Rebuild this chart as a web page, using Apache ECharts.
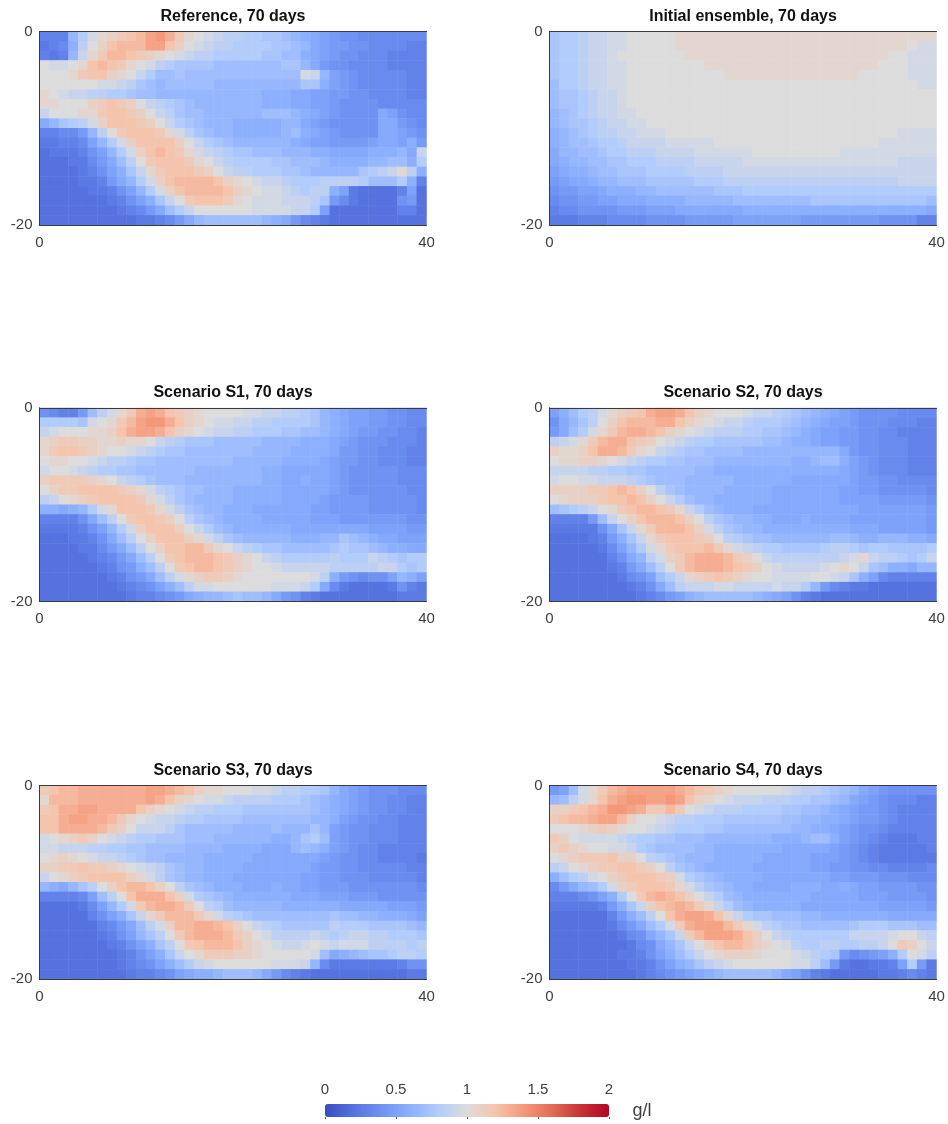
<!DOCTYPE html>
<html><head><meta charset="utf-8">
<style>html,body{margin:0;padding:0;background:#fff}#c{width:948px;height:1124px}</style>
<script src="https://cdn.jsdelivr.net/npm/echarts@6/dist/echarts.min.js"></script>
</head><body><div id="c"></div>
<script>
// One letter per cell, top row first: a = 0.20 g/l, each next letter adds 0.05 g/l.
const panelTitles = ["Reference, 70 days","Initial ensemble, 70 days","Scenario S1, 70 days","Scenario S2, 70 days","Scenario S3, 70 days","Scenario S4, 70 days"];
const xCells = Array.from({length:40},(_,i)=>i);
const yCells = Array.from({length:20},(_,i)=>i);
const colorbarTicks = [0,0.5,1,1.5,2];
const coolwarm = ["#3b4cc0","#5572df","#6f92f3","#8db0fe","#b2ccfb","#dddcdc","#f5c4ac","#f4987a","#e36c55","#c53334","#b40426"];

const reference = [
"cccjmprstuvxywtrqponnmmllkjihgfeeddddddd",
"bcdinqsuvvvxxusqponnmmmmllkjhgffeeddddcc",
"cbcjortvvutsrqponnmmmmmllkkihgfeedddcccc",
"qppqruvutrqpnmllllkkkkkkklljhfeeddddcccc",
"qqqrtuusrqomkklkkkkkkkkkkkkpojgfedddddcc",
"qqqqqqpponlkjkkkkkjjjjjjjjjlligfedddddcc",
"rqpoonnmmlkkjjjjjjjjjjjiiihhggffeeddddcc",
"rrqqqstutsqonmlkjjjjjjjiiihhggfeeeeddddd",
"oqqqrrtuutsqonlkkjjjjjjkkkjihgfeeeehgedd",
"hjlmnpsuuutsqomlkjjjiiiiijjhgfeeeeehhfed",
"ccddfjnqtuuutrpnlkjjiiiiijkihgfeeeehhgfe",
"bbccdgjmpsuuuusqomlkjjjjjjihggffffghhgif",
"abbbcegjmpsuvutrponmllkkkjjjiihhhhiiijho",
"aaabbdfhknqtuuutrqonmmmmllkkkjiiiijjkkim",
"aaaabcegilortuuutsqonnmmmllkjjjjjlmnorni",
"aaaabbcfhjmpsuvvvvusrqpoonmmmnnnnmkkkmic",
"aaaaabbcegjmpsuvvvvusrqpponmnnigbaaaacga",
"aaaaaaabcegiloqtuuutrqpppooonlfdbaaaaefa",
"aaaaaaaabcdfhkmoqqqqqqppppoomgaaaaaaacca",
"aaaaaaaaaabbcdfhjkkkkkkjihfdcbaaaaaaaaaa"];

const initialEnsemble = [
"lmmnooppqqqqqrrrrrrrrrrrrrrrrrrrrrrrrrrr",
"lmmnooppqqqqqrrrrrrrrrrrrrrrrrrrrrrrrqpp",
"lmmnoopqqqqqqqrrrrrrrrrrrrrrrrrrrrrqqppp",
"lmmnooppqqqqqqqqrrrrrrrrrrrrrrrrrrqqqppp",
"lmmnooppqqqqqqqqqqrrrrrrrrrrrrrrqqqqqppp",
"kmmnooppqqqqqqqqqqqqqqqqqqqqqqqqqqqqqqpp",
"kllmnoopqqqqqqqqqqqqqqqqqqqqqqqqqqqqqqqq",
"kllmnoopqqqqqqqqqqqqqqqqqqqqqqqqqqqqqqqq",
"jklmnooppqqqqqqqqqqqqqqqqqqqqqqqqqqqqqqq",
"jkllmnooppqqqqqqqqqqqqqqqqqqqqqqqqqqqqqq",
"ijklmnnoopppqqqqqqqqqqqqqqqqqqqqqqqqpppp",
"ijkklmmnoooopppppqqqqqqqqqqqqqqqqqpppppp",
"hjjkklmmnnnooooppppppqqqqqqqqqpppppppppp",
"hijjkkllmmmnnnnoooooppppppppppppppppoooo",
"ghiijkklllmmmmnnnnoooooooooooooooooooooo",
"fghhijjkkklllllmmmnnnnnnnnnnnnnnnnnnoooo",
"effgghiiijjkkkkkklllmmmmmmmmmmmmmmmmmmmm",
"deeffgghhhiiiijjjjjkkkkkkkkllllllllllllkk".slice(0,40),
"cddeeeefffggghhhhhhhiiiiiiiiiiiiiiiiiiih",
"bbbcccddddeeeefffffgggggggffffffffeeeec".padEnd(40,"c")];

const scenarioS1 = [
"edccfknprtwxwutsrqqqqppoonnmljihggffeedd",
"mmmmlpqrtvxyywusrqppoonnmmmmljihggffeedd",
"opqqqrrsuwxxwusrqpoonnmmmllkkjihgffeeddc",
"rsttssrrsrrqonmlllkkkkkjjjjiiihgfeeedddc",
"rtuutsrqqponmllkkkkkkkjjjjiiiihffeedddcc",
"qrrqqponnmllkkkkkkkkjjjjjiiiihgffeedddcc",
"pqqponmmllkkkkkkjjjjjjjiihhhhhgfeeeeeddd",
"sttttsrqonmlkkkjjjjjjjjiihhihhgfeeeeeddd",
"qsttuuuutsrpnmlkkjjjiiiiihhhhhgfeeeeeedd",
"noqrstuuuutrpnlkjjjjiiiiihhhhgffffeeeeed",
"iihijmpruuutrpnlkjjiiihhhhhhggffffeeeeed",
"ccccehknqtuutsqnlkjiiiihhhhhgggfffffffee",
"bbbbcegjmpsuuusqomkjiiiiiihhhhhhhhggggff",
"aaabbcehknqsuuusrpnlkjjjjjiiijjlkjihhggg",
"aaaabbdfhknqsuuvvtrqonmllkkkkklmllkjiihh",
"aaaaabcdfhknqtuvvvutsrqonmmmmmnmmmonmlmm",
"aaaaaabcefiknqtuvvutsrqqpooooonnnnnoomlm",
"aaaaaaabcefhknprsttsrqqqqqqqpnifedeegjig",
"aaaaaaaabcdegiknppqqqqqqpppomhdbaaaabecb",
"aaaaaaaaabccdefhijjklkkjhfecbaaaaaaaabbb"];

const scenarioS2 = [
"gikmnprstuwxxwusrqqqpoonmlkjihgfeeeedddd",
"ehjlnqsuvvvwwusrqpoonmmmlkjihggfeeedddcc",
"fhkmprtvwwvusrqponnnmmllkjihggffeeddcccc",
"noprtvwwutsqponmmlllllkkjiihggffeedddccc",
"srrsuwwvtrqonmllkkkkjjjjjjjjjjhfeedddccc",
"qrrssrqponmmllkkkjjjjjjjjiijkkigfedddccc",
"oooonnmmllkkkkkjjiiiiiiiiiiiiihgfedddccc",
"pqqppooonmlkkkjjjjjiiiiiihhhhhhgffeedddd",
"ssssttuvusqnlkjjjjiiiiihhhhhhhggffeeeeed",
"qrssstuuvusqomkjjiiiiiihhhhhhhggggfffffe",
"klmnoqrtuvvutromkjiiihhhhhhhhhhhgggggggf",
"ccccfkoqsuvvvusqnlkjjiihhhihhhhggggggggf",
"bbbbbehlortvvvuspnlkjjiiiiiiiiihhhgggggf",
"aaaabcfilortuuutsqnmlkkjjjjjjkkjiijjjiih",
"aaaaabdgjmprtuuuvtrponmmllllmnnmlmmllllm",
"aaaaaacehjnpstvwwwvtsqonnnnnnnopronnmlmo",
"aaaaaabcfhknqtvwwwvutsqpoooopqrqolkiihj".padEnd(40,"j"),
"aaaaaaabdegkmorstutsrqqppppqqpoligdccccc",
"aaaaaaaabcehknoooppoooopoomjfdcbbaaaaaaa",
"aaaaaaaaabcdfgijkkkkkjihgecbaaaaaaaaaaaa"];

const scenarioS3 = [
"tuvvwwwwwwwxxwvusrrqqqpponnmmljhgfeeeddd",
"rvvvwwwwwwwxwusrqppOnnnnmmmlkjihgfeeddcc".toLowerCase(),
"tuwwxxwwwwusrqponnmmmlllllllkjihgfeeddcc",
"uuwxxwwvtrqpoonmmllllkkkkkkkjjigfeeddccc",
"uuwwwwvtsqooonlkkkkkjjjjkjjjljgfeedddccc",
"pqrstsqponmmlllkkkjjjjjjiijlmkgfeedddccc",
"ppooonnmmllkkkkjjjjiiiihhhjkjigfeddccccc",
"qrsrqpoonmlkkjjjjiiiiihhhhhhhgfeeddccccb",
"ssttuttsrqponlkjjiiiihhhhhhhgffeedddddcc",
"oqrstuuuusrpnlkjjiiihhhhhhhggffeeedddddc",
"jihjlnqsuvvusqnlkjiiihhhihhggfffeeeeeeed",
"ccccdgknquwwwuspmlkjiiiiiihhhgggfffeeeee",
"aaaabdgjmptvwwvtqnmkjjjjjiiiiiihhhhhgggf",
"aaaaacegilortvvvtrpnmlkkkkkkkklkkjjiiihg",
"aaaaaacdfhknpsvvwwvusqonmlllllnmmmllllkj",
"aaaaaabcegjlnqtvwwwvtsqpnnnnonmnoonnmmml",
"aaaaaaabcegilnqtuvvvusrqpoopqpopppnnnnmn",
"aaaaaaaabcegiloqrtttssrqqqqqpkhijkllmnnm",
"aaaaaaaabcdegikmopqqqqqqpppojdbbbbbbbcee",
"aaaaaaaaabccdeghiijkkkjhfdcbaaaaaaaaaabb"];

const scenarioS4 = [
"fgkprtvwxxxxxwvutsrqqqqqponnmlkjhgfeeeee",
"jknpruwxyyxxyxusrqpooonnnmmllkjhgfedddcc",
"sstuvwyyxwttvtqponnnmmmmllkkjihgffedcccc",
"tuvvwxxvsqqponnmmmllllllkkjjiihgffedcccc",
"qqqrstsrqqponmmmllkkkkkkkjjiihgfeedccccc",
"tsqpppponmmllkkkjjjjjjjiiijkkigfedcbbbcc",
"stsrqqppomlkkkkjjiiiiiiihhhhhgfedcbbbbbc",
"qrstttussqnmlkjjjiiiiihhhhhgggfedcbbbbbb",
"noqrsttuutsqnlkjiiiiihhhhhhggffeeddccccd",
"ikmnpqstuuutspmlkjiiiihhhhhhhggfffeeeddd",
"dfhjkmpstuuutrpnlkjiihhhhiiihhihggffffee",
"cccdegimqtvwvusqomkjiiiiiiihhhhhgggffffe",
"bbbbbcfilosuvwvtromkjiiiiihhhhhhhhgggggf",
"aaaaaacfiknquwxxwuromllkkkjjiiiiiiihhhhh",
"aaaaaabdfhkmptwxxxvtrpnmllkkkkklmmmlllkk",
"aaaaaaabdehjlotvxxxwusqonmmmmmmoooopqqon",
"aaaaaaaabdehjloqsuvvusrqpnmmnnmmnnoqtsqo",
"aaaaaaabbcegikmoqrsssrqqqponmlfdefgimqpn",
"aaaaaaaabbcegijlnopqqqqqqppnkfbaabbcgmfb",
"aaaaaaaaabcdefghijkkkkkjhgecbaaaaabbcdcb"];

const panelRows = [reference, initialEnsemble, scenarioS1, scenarioS2, scenarioS3, scenarioS4];
const cellValue = ch => +(0.2 + 0.05*(ch.charCodeAt(0)-97)).toFixed(2);

const rowTops = [31.5,408,785.5], colLefts = [39.5,549.5], W = 387, H = 193.5;
const FONT = "Liberation Sans", INK = "#404040", LINE = "#3a3a3a";
const grid=[], xAxis=[], yAxis=[], series=[], title=[];
panelRows.forEach((rows,p)=>{
  const left = colLefts[p%2], top = rowTops[Math.floor(p/2)];
  grid.push({left,top,width:W,height:H,containLabel:false});
  const g = grid.length-1;
  const xCat = xAxis.length, yCat = yAxis.length;
  xAxis.push({type:"category",gridIndex:g,data:xCells,position:"top",z:10,
    axisLine:{show:true,lineStyle:{color:LINE,width:1}},axisTick:{show:false},axisLabel:{show:false},splitLine:{show:false}});
  xAxis.push({type:"value",gridIndex:g,min:0,max:40,interval:40,position:"bottom",z:10,
    axisLine:{show:true,onZero:false,lineStyle:{color:LINE,width:1}},axisTick:{show:false},splitLine:{show:false},
    axisLabel:{color:INK,fontFamily:FONT,fontSize:15,margin:10,showMinLabel:true,showMaxLabel:true}});
  yAxis.push({type:"category",gridIndex:g,data:yCells,inverse:true,position:"right",z:10,
    axisLine:{show:true,lineStyle:{color:LINE,width:1}},axisTick:{show:false},axisLabel:{show:false},splitLine:{show:false}});
  yAxis.push({type:"value",gridIndex:g,min:-20,max:0,interval:20,position:"left",z:10,
    axisLine:{show:true,onZero:false,lineStyle:{color:LINE,width:1}},axisTick:{show:false},splitLine:{show:false},
    axisLabel:{color:INK,fontFamily:FONT,fontSize:15,margin:7,showMinLabel:true,showMaxLabel:true}});
  const data=[];
  rows.forEach((row,r)=>{ for(let c=0;c<40;c++) data.push([c,r,cellValue(row[c])]); });
  series.push({type:"heatmap",xAxisIndex:xCat,yAxisIndex:yCat,data,progressive:0,itemStyle:{borderWidth:0},emphasis:{disabled:true}});
  title.push({text:panelTitles[p],left:left+W/2,top:top-23,padding:0,textAlign:"center",
    textStyle:{fontFamily:FONT,fontWeight:"bold",fontSize:16,color:"#111"}});
});
// colour bar scale
grid.push({left:325,top:1104,width:284,height:13});
xAxis.push({type:"value",gridIndex:6,min:0,max:2,interval:0.5,position:"top",z:10,
  axisLine:{show:false},axisTick:{show:true,inside:true,length:2,lineStyle:{color:"#555"}},splitLine:{show:false},
  axisLabel:{color:INK,fontFamily:FONT,fontSize:15,margin:7,showMinLabel:true,showMaxLabel:true,formatter:v=>String(v)}});
yAxis.push({type:"value",gridIndex:6,show:false,min:0,max:1});
title.push({text:"g/l",left:642,top:1102,padding:0,textAlign:"center",textStyle:{fontFamily:FONT,fontWeight:"normal",fontSize:18,color:INK}});

const chart = echarts.init(document.getElementById("c"),null,{renderer:"canvas"});
chart.setOption({animation:false,backgroundColor:"#fff",title,grid,xAxis,yAxis,series,
  visualMap:{type:"continuous",min:0,max:2,orient:"horizontal",left:325,top:1104,itemWidth:13,itemHeight:284,
    calculable:false,realtime:false,text:null,showLabel:false,padding:0,hoverLink:false,
    seriesIndex:[0,1,2,3,4,5],inRange:{color:coolwarm},textStyle:{fontSize:0,color:"transparent"},z:4}});
</script></body></html>
